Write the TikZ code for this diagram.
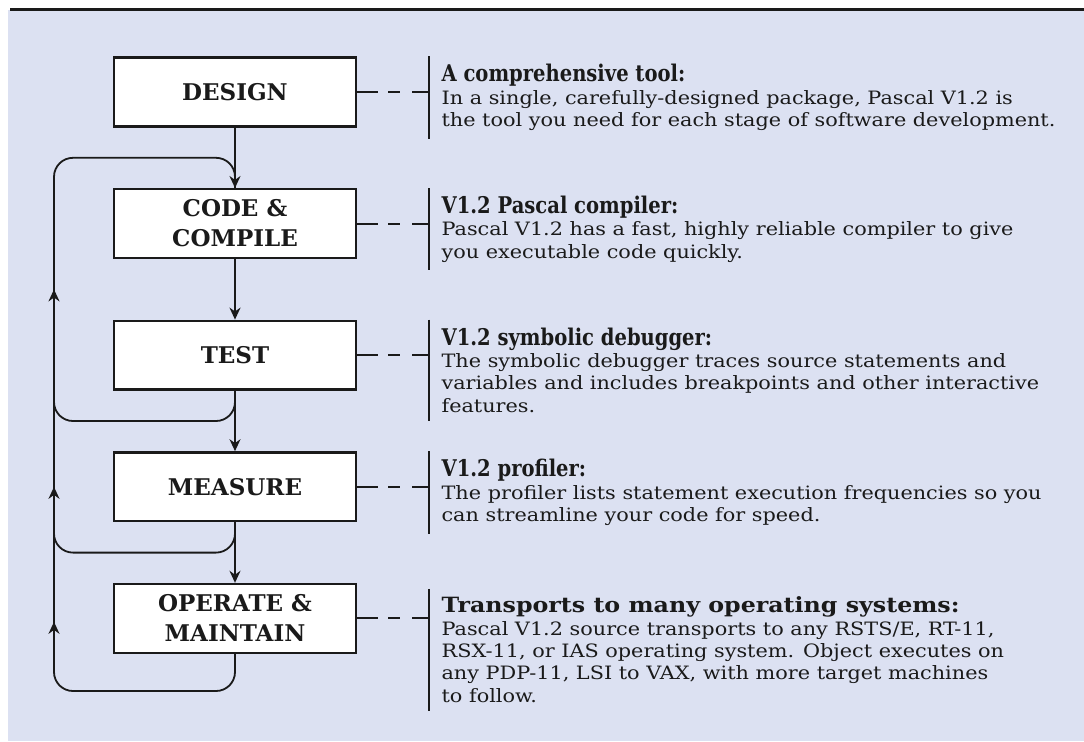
\documentclass[tikz,border=0pt]{standalone}
\usepackage{fontspec}
\setmainfont{DejaVu Serif}
\newfontfamily\bodyfont{DejaVu Serif}[FakeStretch=1.13]
\newfontfamily\headfont{DejaVu Serif}[FakeStretch=0.85]
\usetikzlibrary{arrows.meta,positioning,calc}

\definecolor{paper}{HTML}{DCE1F2}
\definecolor{ink}{HTML}{1A1A1A}
\newcommand{\notehead}[2][\headfont\fontsize{11.5}{11.2}]{{#1\bfseries\selectfont #2}}

\begin{document}
\begin{tikzpicture}[
  x=0.5pt, y=-0.5pt,
  >={Stealth[length=6pt,width=5.5pt]},
  node distance=30.2pt,
  stage/.style={
    draw=ink,
    line width=1.2pt,
    fill=white,
    minimum width=121pt,
    minimum height=34.4pt,
    inner sep=0pt,
    align=center,
    text=ink,
    font=\fontsize{11.5}{15}\selectfont\bfseries
  },
  note/.style={
    align=left,
    inner xsep=6pt,
    inner ysep=3.8pt,
    text=ink,
    font=\bodyfont\fontsize{9.2}{11.2}\selectfont
  },
  flow/.style={
    ->,
    line width=0.9pt,
    draw=ink
  },
  loopline/.style={
    line width=0.9pt,
    draw=ink,
    rounded corners=9.5pt
  },
  link/.style={
    line width=1pt,
    draw=ink,
    dash pattern=on 10.5pt off 5pt on 6pt off 6pt on 12pt
  },
  bar/.style={
    line width=1pt,
    draw=ink
  }
]
\useasboundingbox (0,0) rectangle (1084,741);
\fill[paper] (8,10) rectangle (1084,741);
\draw[line width=1.5pt,ink] (10,9) -- (1084,9);

% Development stages
\node[stage] (design) at (235,92) {DESIGN};
\node[stage,below=of design] (code) {CODE \&\\COMPILE};
\node[stage,below=of code] (test) {TEST};
\node[stage,below=of test] (measure) {MEASURE};
\node[stage,below=of measure] (operate) {OPERATE \&\\MAINTAIN};

\draw[flow] (design) -- (code);
\draw[flow] (code) -- (test);
\draw[flow] (test) -- (measure);
\draw[flow] (measure) -- (operate);

% Feedback loops back to coding
\coordinate (rail) at (54,0);
\coordinate (gap1) at ($(design.south)!0.5!(code.north)$);
\coordinate (gap3) at ($(test.south)!0.5!(measure.north)$);
\coordinate (gap4) at ($(measure.south)!0.5!(operate.north)$);
\coordinate (gap5) at ([yshift=-18.5pt]operate.south);

\draw[loopline] (operate.south) -- (gap5) -- (gap5 -| rail)
  -- (gap1 -| rail) -- (gap1) -- (code.north);
\draw[loopline] (test.south) -- (gap3) -- (gap3 -| rail)
  -- ($(gap3 -| rail)+(0,-40)$);
\draw[loopline] (measure.south) -- (gap4) -- (gap4 -| rail)
  -- ($(gap4 -| rail)+(0,-40)$);

\draw[flow] ($(gap5 -| rail)!0.3!(gap4 -| rail)$) -- ($(gap5 -| rail)!0.5!(gap4 -| rail)$);
\draw[flow] ($(gap4 -| rail)!0.3!(gap3 -| rail)$) -- ($(gap4 -| rail)!0.5!(gap3 -| rail)$);
\draw[flow] ($(gap3 -| rail)!0.3!(gap1 -| rail)$) -- ($(gap3 -| rail)!0.5!(gap1 -| rail)$);

% Notes beside each stage
\node[note,right=36pt of design.north east,anchor=north west] (tool) {
  \notehead{A comprehensive tool:}\\
  In a single, carefully-designed package, Pascal V1.2 is\\
  the tool you need for each stage of software development.
};

\node[note,right=36pt of code.north east,anchor=north west] (compiler) {
  \notehead{V1.2 Pascal compiler:}\\
  Pascal V1.2 has a fast, highly reliable compiler to give\\
  you executable code quickly.
};

\node[note,right=36pt of test.north east,anchor=north west] (debugger) {
  \notehead{V1.2 symbolic debugger:}\\
  The symbolic debugger traces source statements and\\
  variables and includes breakpoints and other interactive\\
  features.
};

\node[note,right=36pt of measure.north east,anchor=north west] (profiler) {
  \notehead{V1.2 profiler:}\\
  The profiler lists statement execution frequencies so you\\
  can streamline your code for speed.
};

\node[note,right=36pt of operate.north east,anchor=north west,yshift=-3pt] (transport) {
  \notehead[\bodyfont\fontsize{10.5}{11.2}]{Transports to many operating systems:}\\
  Pascal V1.2 source transports to any RSTS/E, RT-11,\\
  RSX-11, or IAS operating system. Object executes on\\
  any PDP-11, LSI to VAX, with more target machines\\
  to follow.
};

\foreach \s/\t in {design/tool,code/compiler,test/debugger,measure/profiler,operate/transport}{
  \draw[bar] (\t.north west) -- (\t.south west);
  \draw[link] (\s.east) -- (\s.east -| \t.west);
}

\end{tikzpicture}
\end{document}
